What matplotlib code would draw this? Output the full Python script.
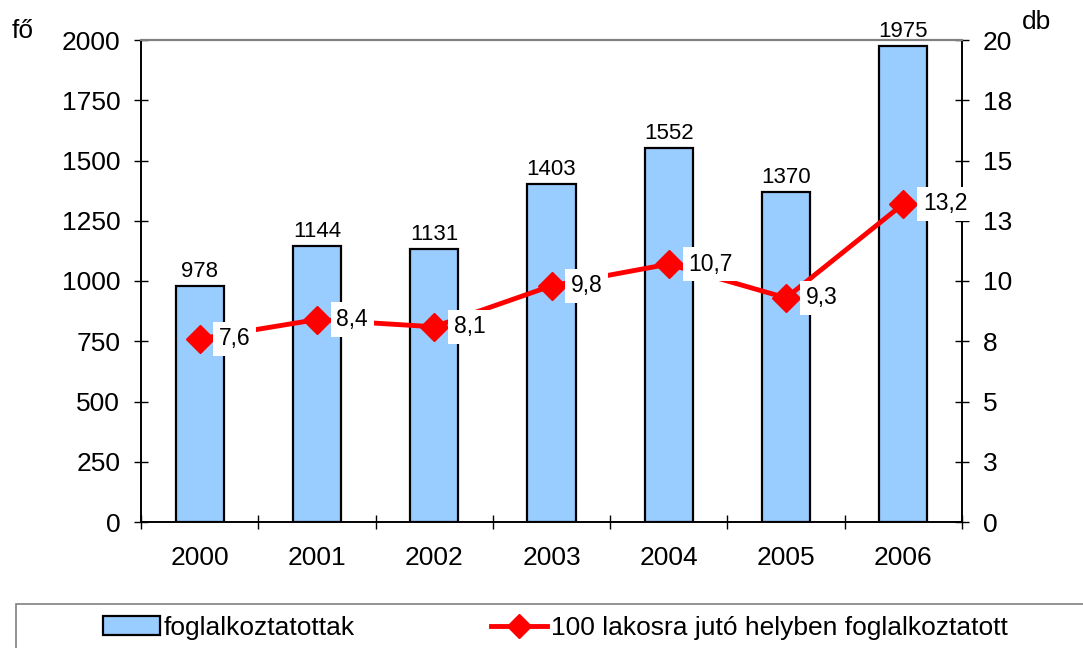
import matplotlib
matplotlib.use("Agg")
import matplotlib.pyplot as plt
from matplotlib.patches import Rectangle, Patch
from matplotlib.lines import Line2D
from matplotlib.ticker import FixedLocator, FixedFormatter

plt.rcParams['font.family'] = ['Liberation Sans', 'DejaVu Sans']

years = ['2000', '2001', '2002', '2003', '2004', '2005', '2006']
employed = [978, 1144, 1131, 1403, 1552, 1370, 1975]
per100 = [7.6, 8.4, 8.1, 9.8, 10.7, 9.3, 13.2]
per100_labels = ['7,6', '8,4', '8,1', '9,8', '10,7', '9,3', '13,2']
left_ticks = [0, 250, 500, 750, 1000, 1250, 1500, 1750, 2000]
right_ticks = [0, 2.5, 5, 7.5, 10, 12.5, 15, 17.5, 20]
right_tick_labels = ['0', '3', '5', '8', '10', '13', '15', '18', '20']
bar_name = 'foglalkoztatottak'
line_name = '100 lakosra jutó helyben foglalkoztatott'

W, H = 1083, 648
fig = plt.figure(figsize=(W / 100, H / 100), dpi=100)
ax = fig.add_axes([141 / W, 1 - 522 / H, (962 - 141) / W, (522 - 40) / H])
ax2 = ax.twinx()

TICK_FS = 19
x = list(range(len(years)))
bar_color = '#99CCFF'
ax.bar(x, employed, width=0.41, color=bar_color, edgecolor='black', linewidth=1.6, zorder=2)
for xi, v in zip(x, employed):
    ax.annotate(str(v), (xi, v), xytext=(0, 3), textcoords='offset points',
                ha='center', va='bottom', fontsize=16)

ax.set_xlim(-0.5, len(years) - 0.5)
ax.set_ylim(0, 2000)
ax.yaxis.set_major_locator(FixedLocator(left_ticks))
ax.set_xticks(x)
ax.set_xticklabels(years)
ax.set_xticks([i - 0.5 for i in range(len(years) + 1)], minor=True)
ax.tick_params(axis='x', which='major', length=0, pad=17, labelsize=TICK_FS)
ax.tick_params(axis='x', which='minor', length=10, direction='inout', width=1)
ax.tick_params(axis='y', length=10, direction='inout', width=1, pad=10, labelsize=TICK_FS)

ax2.set_ylim(0, 20)
ax2.yaxis.set_major_locator(FixedLocator(right_ticks))
ax2.yaxis.set_major_formatter(FixedFormatter(right_tick_labels))
ax2.tick_params(axis='y', length=10, direction='inout', width=1, pad=10, labelsize=TICK_FS)

ax2.plot(x, per100, color='#FF0000', linewidth=3.5, marker='D', markersize=14,
         markeredgecolor='#FF0000', zorder=3)
for xi, v, lab in zip(x, per100, per100_labels):
    ax2.annotate(lab, (xi, v), xytext=(14, 0), textcoords='offset points',
                 ha='left', va='center', fontsize=16.5,
                 bbox=dict(boxstyle='square,pad=0.25', fc='white', ec='none'),
                 zorder=5, annotation_clip=False)

for a in (ax, ax2):
    a.spines['top'].set_color('#808080')
    a.spines['top'].set_linewidth(1.5)
    for s in ('left', 'right', 'bottom'):
        a.spines[s].set_color('black')
        a.spines[s].set_linewidth(1.2)

fig.text(12 / W, 1 - 31 / H, 'fő', fontsize=TICK_FS, ha='left', va='center')
fig.text(1022 / W, 1 - 22 / H, 'db', fontsize=TICK_FS, ha='left', va='center')

# legend frame (cut off by figure edge as in reference)
fig.patches.append(Rectangle((16 / W, -0.05), 1.0, 0.05 + 1 - 604 / H,
                             transform=fig.transFigure, fill=False,
                             edgecolor='#808080', linewidth=1.2))
handles = [Patch(facecolor=bar_color, edgecolor='black', linewidth=1.6, label=bar_name),
           Line2D([], [], color='#FF0000', linewidth=3.5, marker='D', markersize=12,
                  label=line_name)]
fig.legend(handles=handles, loc='center left', bbox_to_anchor=(103 / W, 1 - 628 / H),
           ncol=2, frameon=False, fontsize=19, handlelength=2.15, handleheight=0.72,
           handletextpad=0.15, columnspacing=5.15, borderpad=0, borderaxespad=0)

fig.savefig('out.png', dpi=100)
